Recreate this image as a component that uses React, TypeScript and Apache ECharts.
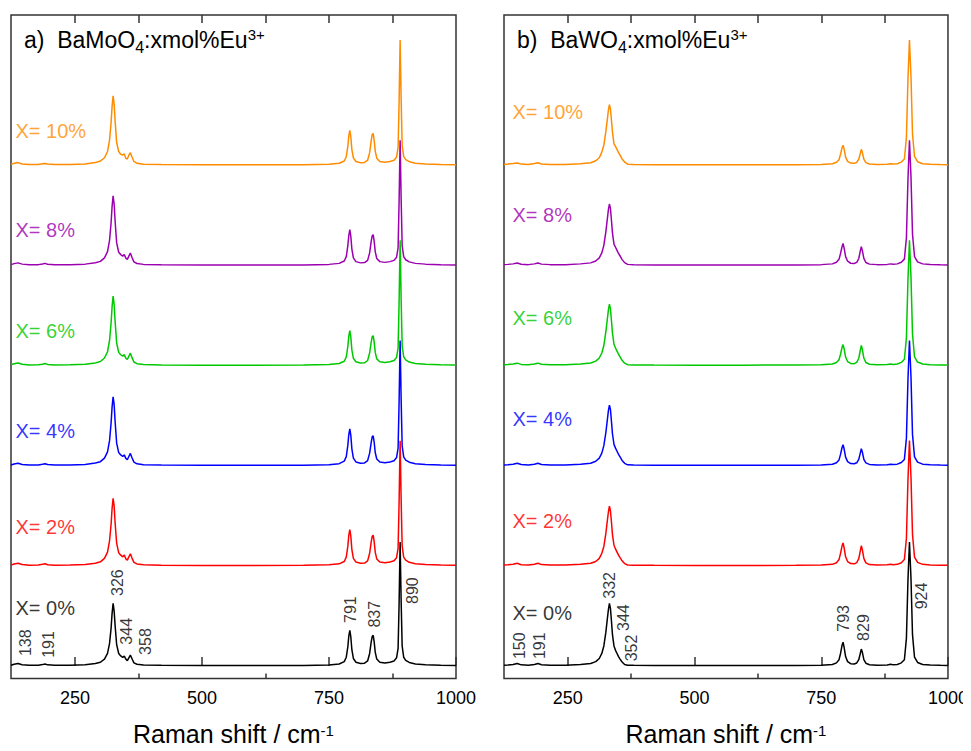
import React, { useEffect, useRef } from 'react';
import * as echarts from 'echarts';

const FONT = '"Liberation Sans", Arial, Helvetica, sans-serif';

// one spectrum per Eu3+ doping level, bottom to top
const dopingLabels = ['X= 0%', 'X= 2%', 'X= 4%', 'X= 6%', 'X= 8%', 'X= 10%'];
const dopingColors = ['#000000', '#FF0000', '#0000FF', '#00C800', '#9C00B0', '#FF8C00'];
const stackOffsets = [0, 80, 160, 240, 320, 400];

const xTickLabels = [250, 500, 750, 1000];
const xMinorTicks = [375, 625, 875];
const xTopTicks = [250, 375, 500, 625, 750, 875];

// ---------- (a) BaMoO4 : Raman shift sample points (cm-1) ----------
const moShift = [
  124, 130, 138, 146, 160, 178, 186, 191, 196, 210,
  240, 270, 290, 300, 308, 314, 318, 321, 323, 325,
  327, 329, 332, 336, 340, 344, 347, 350, 353, 356,
  359, 362, 366, 372, 385, 420, 500, 600, 700, 750,
  770, 780, 784, 787, 789, 791, 793, 795, 798, 803,
  812, 820, 826, 830, 833, 835, 837, 839, 841, 844,
  850, 860, 870, 878, 883, 886, 888, 890, 892, 894,
  897, 901, 908, 920, 940, 970, 1000,
];
// intensities (normalised, strongest band = 100)
const mo0 = [
  0.6, 1.4, 2.0, 1.0, 0.5, 0.6, 1.1, 1.6, 0.9, 0.5,
  0.6, 1.0, 2.0, 3.0, 5.5, 10, 18, 30, 42, 50,
  44, 32, 17, 10, 8, 6.8, 8.0, 5.5, 4.2, 6.5,
  8.7, 6.0, 2.5, 1.4, 0.8, 0.5, 0.3, 0.3, 0.4, 0.8,
  1.6, 3.5, 7, 15, 24, 28.5, 23, 13, 6, 3,
  2.0, 2.2, 4, 10, 19, 23.5, 24.5, 19, 11, 5.5,
  3.0, 2.4, 3.0, 4.0, 6.5, 14, 50, 99, 52, 16,
  7, 4.5, 2.8, 1.6, 1.0, 0.6, 0.4,
];
const mo2 = [
  0.6, 1.5, 2.1, 1.0, 0.5, 0.6, 1.2, 1.7, 0.9, 0.5,
  0.6, 1.0, 2.1, 3.2, 6, 11, 20, 33, 46, 54,
  48, 34, 18, 10.5, 8.5, 7.2, 8.6, 5.6, 4.6, 7.2,
  9.6, 6.4, 2.8, 1.5, 0.8, 0.5, 0.3, 0.3, 0.4, 0.8,
  1.6, 3.5, 7, 15.5, 24.5, 29, 23.5, 13, 6, 3,
  2.0, 2.2, 4, 10, 19, 23.5, 24.5, 19, 11, 5.5,
  3.0, 2.4, 3.0, 4.0, 6.5, 14, 51, 100, 53, 16,
  7, 4.5, 2.8, 1.6, 1.0, 0.6, 0.4,
];
const mo4 = [
  0.6, 1.4, 2.0, 1.0, 0.5, 0.6, 1.1, 1.6, 0.9, 0.5,
  0.6, 1.0, 2.1, 3.2, 6, 11, 20, 34, 47, 55,
  49, 35, 18, 10.5, 8.6, 7.4, 8.6, 5.8, 4.7, 7.3,
  9.8, 6.5, 2.8, 1.5, 0.8, 0.5, 0.3, 0.3, 0.4, 0.8,
  1.6, 3.6, 7.2, 16, 25, 29.4, 24, 13.5, 6, 3,
  2.0, 2.2, 4, 10, 18.5, 23, 23.8, 18.5, 10.5, 5.3,
  3.0, 2.4, 3.0, 4.0, 6.5, 14, 51, 100, 53, 16,
  7, 4.5, 2.8, 1.6, 1.0, 0.6, 0.4,
];
const mo6 = [
  0.6, 1.4, 2.0, 1.0, 0.5, 0.6, 1.1, 1.6, 0.9, 0.5,
  0.6, 1.0, 2.1, 3.2, 6, 11, 20, 34, 47, 55.5,
  49, 35, 18, 10.5, 8.6, 7.4, 8.7, 5.8, 4.8, 7.4,
  9.9, 6.5, 2.8, 1.5, 0.8, 0.5, 0.3, 0.3, 0.4, 0.8,
  1.6, 3.4, 6.8, 15, 23.5, 27.8, 22.5, 12.5, 5.8, 3,
  2.0, 2.2, 4, 10, 18.5, 23, 23.8, 18.5, 10.5, 5.3,
  3.0, 2.4, 3.0, 4.0, 6.5, 14, 51, 100, 53, 16,
  7, 4.5, 2.8, 1.6, 1.0, 0.6, 0.4,
];
const mo8 = [
  0.6, 1.4, 2.0, 1.0, 0.5, 0.6, 1.1, 1.6, 0.9, 0.5,
  0.6, 1.0, 2.1, 3.2, 6, 11, 20, 34, 47, 55.5,
  49, 35, 18, 10.5, 8.6, 7.4, 8.7, 5.8, 4.8, 7.4,
  9.9, 6.5, 2.8, 1.5, 0.8, 0.5, 0.3, 0.3, 0.4, 0.8,
  1.6, 3.5, 7, 15.5, 24, 28.6, 23, 13, 6, 3,
  2.0, 2.2, 4, 10, 19, 23.5, 24.6, 19, 11, 5.5,
  3.0, 2.4, 3.0, 4.0, 6.5, 14, 51, 100, 53, 16,
  7, 4.5, 2.8, 1.6, 1.0, 0.6, 0.4,
];
const mo10 = [
  0.6, 1.5, 2.1, 1.0, 0.5, 0.6, 1.1, 1.4, 0.9, 0.5,
  0.6, 1.0, 2.1, 3.4, 6, 11, 20, 34, 47, 55.5,
  49, 35, 18, 11, 8.7, 8.2, 9.0, 5.5, 5.0, 8.0,
  10, 6.8, 3.0, 1.5, 0.8, 0.5, 0.3, 0.3, 0.4, 0.8,
  1.6, 3.4, 6.8, 15, 23.5, 27.8, 22.5, 12.5, 5.8, 3,
  2.0, 2.2, 4, 10, 19.5, 24.5, 25.4, 19.5, 11.5, 5.6,
  3.0, 2.4, 3.0, 4.0, 6.5, 14, 51, 100, 53, 16,
  7, 4.5, 2.8, 1.6, 1.0, 0.6, 0.4,
];

// ---------- (b) BaWO4 : Raman shift sample points (cm-1) ----------
const wShift = [
  124, 132, 142, 150, 158, 172, 184, 191, 198, 215,
  245, 275, 295, 305, 312, 317, 321, 325, 328, 330,
  332, 334, 336, 338, 341, 344, 347, 350, 353, 357,
  362, 368, 380, 420, 500, 600, 700, 750, 772, 780,
  785, 788, 791, 793, 795, 798, 802, 808, 815, 820,
  824, 827, 829, 831, 834, 838, 845, 860, 880, 887,
  892, 900, 908, 914, 918, 921, 924, 927, 930, 934,
  940, 950, 965, 985, 1000,
];
const w0 = [
  0.6, 0.8, 1.2, 2.0, 0.9, 0.6, 1.2, 2.0, 1.0, 0.6,
  0.6, 1.2, 2.0, 3.5, 6, 10, 16, 27, 38, 45,
  50, 46, 36, 25, 16, 12.5, 10, 7.5, 5.5, 3.2,
  1.2, 0.6, 0.5, 0.4, 0.3, 0.3, 0.4, 0.6, 1.2, 2.5,
  5, 10, 16.5, 19, 15, 7.5, 3.5, 1.8, 1.6, 2.4,
  5, 10, 13.5, 11, 5, 2.2, 1.0, 0.6, 0.8, 1.4,
  0.9, 1.2, 2.5, 5, 22, 68, 99, 70, 25, 7,
  2.8, 1.2, 0.7, 0.5, 0.4,
];
const w2 = [
  0.6, 0.9, 1.3, 2.0, 0.9, 0.6, 1.3, 2.1, 1.0, 0.6,
  0.6, 1.2, 2.0, 3.5, 6, 10, 15.5, 26, 36.5, 43,
  47.6, 44, 35, 25, 16.5, 13.5, 11, 8.5, 6.5, 4,
  1.8, 0.7, 0.5, 0.4, 0.3, 0.3, 0.4, 0.6, 1.2, 2.5,
  5, 10, 16, 18.3, 14.5, 7.2, 3.4, 1.8, 1.6, 2.6,
  5.8, 12, 16, 13, 6, 2.4, 1.0, 0.6, 0.8, 1.2,
  0.9, 1.2, 2.5, 5, 22, 68, 100, 71, 25, 7,
  2.8, 1.2, 0.7, 0.5, 0.4,
];
const w4 = [
  0.6, 0.8, 1.2, 1.9, 0.9, 0.6, 1.2, 1.9, 1.0, 0.6,
  0.6, 1.2, 2.0, 3.5, 6, 10, 16, 26.5, 37, 44,
  48.4, 45, 35.5, 25.5, 17, 14, 11.5, 9, 7, 4.2,
  1.9, 0.7, 0.5, 0.4, 0.3, 0.3, 0.4, 0.6, 1.2, 2.4,
  4.6, 9, 14.5, 16.7, 13.5, 6.8, 3.2, 1.7, 1.5, 2.3,
  5, 10, 13.5, 11, 5, 2.2, 1.0, 0.6, 0.8, 1.2,
  0.9, 1.2, 2.5, 5, 22, 68, 100, 71, 25, 7,
  2.8, 1.2, 0.7, 0.5, 0.4,
];
const w6 = [
  0.6, 0.8, 1.2, 1.9, 0.9, 0.6, 1.2, 1.9, 1.0, 0.6,
  0.6, 1.2, 2.0, 3.5, 6, 10, 16, 27, 37.5, 44.5,
  49, 45.5, 36, 26, 17, 14, 11.5, 9, 7, 4.2,
  1.9, 0.7, 0.5, 0.4, 0.3, 0.3, 0.4, 0.6, 1.2, 2.4,
  4.6, 9, 14.5, 16.7, 13.5, 6.8, 3.2, 1.7, 1.5, 2.5,
  5.8, 12, 16, 13, 6, 2.4, 1.0, 0.6, 0.8, 1.2,
  0.9, 1.2, 2.5, 5, 22, 68, 100, 71, 25, 7,
  2.8, 1.2, 0.7, 0.5, 0.4,
];
const w8 = [
  0.6, 0.8, 1.2, 1.9, 0.9, 0.6, 1.2, 1.9, 1.0, 0.6,
  0.6, 1.2, 2.0, 3.5, 6, 10, 16, 27, 37.5, 44.5,
  49, 45.5, 36, 26, 17, 14.5, 12, 9.5, 7.5, 4.6,
  2.2, 0.8, 0.5, 0.4, 0.3, 0.3, 0.4, 0.6, 1.2, 2.5,
  4.8, 9.5, 15, 17.5, 14, 7, 3.3, 1.7, 1.5, 2.4,
  5.5, 11.5, 15, 12, 5.6, 2.3, 1.0, 0.6, 0.8, 1.2,
  0.9, 1.2, 2.5, 5, 22, 68, 100, 71, 25, 7,
  2.8, 1.2, 0.7, 0.5, 0.4,
];
const w10 = [
  0.6, 0.9, 1.3, 1.8, 0.9, 0.6, 1.3, 2.0, 1.0, 0.6,
  0.6, 1.2, 2.0, 3.6, 6, 10.5, 16, 27, 37, 44,
  48.4, 45, 36, 26.5, 17, 15, 12.7, 10, 8, 5,
  2.5, 0.8, 0.5, 0.4, 0.3, 0.3, 0.4, 0.6, 1.2, 2.4,
  4.4, 8.8, 14, 16, 13, 6.5, 3.1, 1.7, 1.5, 2.2,
  4.8, 9.5, 12.7, 10.3, 4.8, 2.1, 1.0, 0.6, 0.8, 1.2,
  0.9, 1.2, 2.5, 5, 22, 68, 100, 71, 25, 7,
  2.8, 1.2, 0.7, 0.5, 0.4,
];

const moSpectra = [mo0, mo2, mo4, mo6, mo8, mo10];
const wSpectra = [w0, w2, w4, w6, w8, w10];

// annotation positions (data coordinates: shift, stacked intensity)
const moPeakLabels = [
  { text: '138', x: 152.5, y: 18.6 },
  { text: '191', x: 198.8, y: 17.2 },
  { text: '326', x: 332.7, y: 66.6 },
  { text: '344', x: 351.8, y: 27.7 },
  { text: '358', x: 387.8, y: 19.5 },
  { text: '791', x: 793.3, y: 45 },
  { text: '837', x: 840.5, y: 41.3 },
  { text: '890', x: 914.4, y: 60.2 },
];
const wPeakLabels = [
  { text: '150', x: 155.5, y: 16.2 },
  { text: '191', x: 193.9, y: 16.2 },
  { text: '332', x: 332.7, y: 64.4 },
  { text: '344', x: 359.6, y: 38.6 },
  { text: '352', x: 375, y: 14.4 },
  { text: '793', x: 793.3, y: 38 },
  { text: '829', x: 832.7, y: 30.7 },
  { text: '924', x: 947.8, y: 55.9 },
];
const moNameX = 131.9;
const moNameY = [46.3, 111.4, 187.6, 267.8, 347.9, 427.2];
const wNameX = 139.7;
const wNameY = [42.0, 116.2, 197.1, 278.0, 360.5, 442.6];

function buildAxes(grid: number) {
  const tickLine = { color: '#333', width: 1.5 };
  return [
    {
      gridIndex: grid, type: 'value', min: 124, max: 1000, position: 'bottom',
      axisLine: { show: false },
      axisTick: { show: true, inside: true, length: 9, customValues: xTickLabels, lineStyle: tickLine },
      axisLabel: {
        show: true, customValues: xTickLabels, fontSize: 18, color: '#000', fontFamily: FONT, margin: 10,
        formatter: (v: number) => String(v),
      },
      splitLine: { show: false },
      name: '{a|Raman shift / cm}{b|-1}',
      nameLocation: 'middle',
      nameGap: 40,
      nameTextStyle: {
        color: '#000',
        rich: {
          a: { fontSize: 25, fontFamily: FONT, color: '#000', lineHeight: 30 },
          b: { fontSize: 15, fontFamily: FONT, color: '#000', verticalAlign: 'top', padding: [4, 0, 0, 0] },
        },
      },
    },
    {
      gridIndex: grid, type: 'value', min: 124, max: 1000, position: 'top',
      axisLine: { show: false },
      axisTick: { show: true, inside: true, length: 8, customValues: xTopTicks, lineStyle: tickLine },
      axisLabel: { show: false },
      splitLine: { show: false },
    },
    {
      gridIndex: grid, type: 'value', min: 124, max: 1000, position: 'bottom',
      axisLine: { show: false },
      axisTick: { show: true, inside: true, length: 5, customValues: xMinorTicks, lineStyle: tickLine },
      axisLabel: { show: false },
      splitLine: { show: false },
    },
  ];
}

function buildSeries(grid: number, shift: number[], spectra: number[][], peaks: any[], nameX: number, nameY: number[]) {
  const xi = grid * 3;
  const out: any[] = spectra.map((ys, j) => ({
    type: 'line',
    xAxisIndex: xi,
    yAxisIndex: grid,
    showSymbol: false,
    symbol: 'none',
    silent: true,
    z: 2,
    lineStyle: { color: dopingColors[j], width: 1.5 },
    data: shift.map((x, k) => [x, ys[k] + stackOffsets[j]]),
  }));
  out.push({
    type: 'scatter',
    xAxisIndex: xi,
    yAxisIndex: grid,
    symbol: 'circle',
    symbolSize: 1,
    silent: true,
    z: 5,
    itemStyle: { color: 'rgba(0,0,0,0)' },
    label: { show: true, position: 'inside', rotate: 90, fontSize: 16, color: '#000', fontFamily: FONT },
    data: peaks.map((p) => ({ value: [p.x, p.y], label: { formatter: p.text } })),
  });
  out.push({
    type: 'scatter',
    xAxisIndex: xi,
    yAxisIndex: grid,
    symbol: 'circle',
    symbolSize: 1,
    silent: true,
    z: 5,
    itemStyle: { color: 'rgba(0,0,0,0)' },
    label: { show: true, position: 'right', distance: 0, fontSize: 20, fontFamily: FONT },
    data: nameY.map((y, j) => ({
      value: [nameX, y],
      label: { formatter: dopingLabels[j], color: dopingColors[j] },
    })),
  });
  return out;
}

function titleGraphic(left: number, prefix: string, compound: string) {
  return {
    type: 'text',
    left,
    top: 27,
    style: {
      text: `{m|${prefix}  ${compound}}{sub|4}{m|:xmol%Eu}{sup|3+}`,
      rich: {
        m: { fontSize: 23, fontFamily: FONT, fill: '#000', lineHeight: 30 },
        sub: { fontSize: 16, fontFamily: FONT, fill: '#000', verticalAlign: 'bottom' },
        sup: { fontSize: 15, fontFamily: FONT, fill: '#000', verticalAlign: 'top', padding: [2, 0, 0, 0] },
      },
    },
  };
}

export default function App() {
  const ref = useRef<HTMLDivElement>(null);
  useEffect(() => {
    if (!ref.current) return;
    const chart = echarts.init(ref.current, null, { renderer: 'svg' });
    const gridBase = { top: 15, height: 668, width: 445, show: true, borderColor: '#333', borderWidth: 1.5, backgroundColor: 'transparent' };
    chart.setOption({
      animation: false,
      backgroundColor: '#ffffff',
      grid: [
        { ...gridBase, left: 11 },
        { ...gridBase, left: 504 },
      ],
      xAxis: [...buildAxes(0), ...buildAxes(1)],
      yAxis: [
        { gridIndex: 0, type: 'value', min: -10, max: 520, show: false },
        { gridIndex: 1, type: 'value', min: -10, max: 520, show: false },
      ],
      graphic: [titleGraphic(24, 'a)', 'BaMoO'), titleGraphic(517, 'b)', 'BaWO')],
      series: [
        ...buildSeries(0, moShift, moSpectra, moPeakLabels, moNameX, moNameY),
        ...buildSeries(1, wShift, wSpectra, wPeakLabels, wNameX, wNameY),
      ],
    });
    return () => chart.dispose();
  }, []);
  return <div ref={ref} style={{ width: 971, height: 751, margin: -8 }} />;
}
